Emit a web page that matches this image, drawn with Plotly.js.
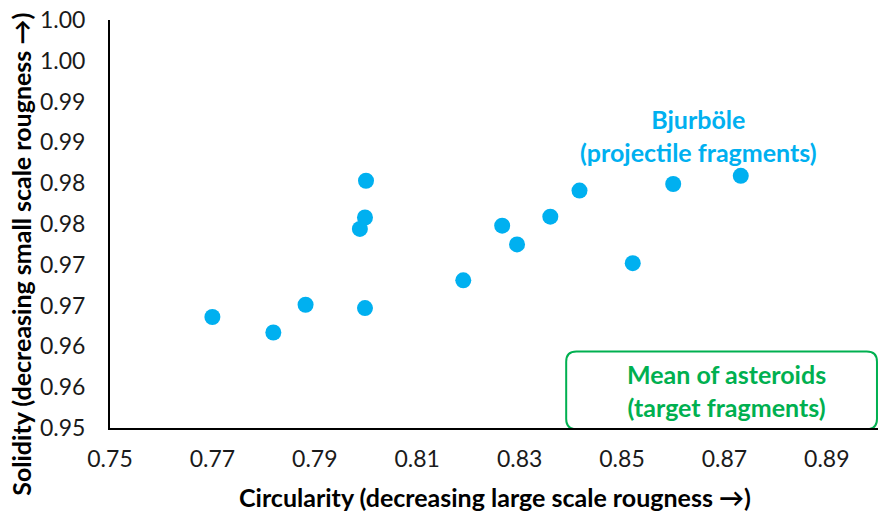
<!DOCTYPE html>
<html>
<head>
<meta charset="utf-8">
<script src="https://cdn.plot.ly/plotly-3.0.1.min.js"></script>
<style>html,body{margin:0;padding:0;background:#fff;}#chart{width:878px;height:516px;}</style>
</head>
<body>
<div id="chart"></div>
<script>
const circularity = [0.7700, 0.7819, 0.7882, 0.8000, 0.7998, 0.7988, 0.7998, 0.8190, 0.8266, 0.8295, 0.8360, 0.8417, 0.8521, 0.8600, 0.8732];
const solidity    = [0.9636, 0.9617, 0.9651, 0.9803, 0.9758, 0.9744, 0.9647, 0.9681, 0.9748, 0.9725, 0.9759, 0.9791, 0.9702, 0.9799, 0.9809];
const xTickVals = [0.75, 0.77, 0.79, 0.81, 0.83, 0.85, 0.87, 0.89];
const xTickText = ["0.75", "0.77", "0.79", "0.81", "0.83", "0.85", "0.87", "0.89"];
const yTickVals = [0.95, 0.955, 0.96, 0.965, 0.97, 0.975, 0.98, 0.985, 0.99, 0.995, 1.0];
const yTickText = ["0.95", "0.96", "0.96", "0.97", "0.97", "0.98", "0.98", "0.99", "0.99", "1.00", "1.00"];
const xTitle = "Circularity (decreasing large scale rougness \u2192)";
const yTitle = "Solidity (decreasing small scale rougness \u2192)";
const projLabel = "Bjurböle<br>(projectile fragments)";
const targetLabel = "Mean of asteroids<br>(target fragments)";

const FONT = "Lato, 'Open Sans', 'DejaVu Sans', sans-serif";
const blue = "#00B0F0";
const green = "#00B050";

// rounded box (data coords)
const bx0 = 0.8391, bx1 = 0.8998, by0 = 0.94985, by1 = 0.95938;
const rx = 0.0020, ry = 0.00125;
const boxPath = `M ${bx0+rx},${by1} L ${bx1-rx},${by1} Q ${bx1},${by1} ${bx1},${by1-ry} L ${bx1},${by0+ry} Q ${bx1},${by0} ${bx1-rx},${by0} L ${bx0+rx},${by0} Q ${bx0},${by0} ${bx0},${by0+ry} L ${bx0},${by1-ry} Q ${bx0},${by1} ${bx0+rx},${by1} Z`;

const trace = {
  x: circularity, y: solidity, type: "scatter", mode: "markers",
  marker: {size: 16, color: blue}, cliponaxis: false, hoverinfo: "x+y"
};

const layout = {
  width: 878, height: 516,
  margin: {l: 110, r: 0, t: 20, b: 88},
  paper_bgcolor: "#fff", plot_bgcolor: "#fff",
  showlegend: false,
  font: {family: FONT, color: "#000"},
  xaxis: {
    range: [0.75, 0.90], tickvals: xTickVals, ticktext: xTickText,
    showgrid: false, zeroline: false, showline: true, linecolor: "#000", linewidth: 2,
    ticks: "", ticklabelstandoff: 9, tickfont: {family: FONT, size: 23, color: "#1a1a1a"}
  },
  yaxis: {
    range: [0.95, 1.0], tickvals: yTickVals, ticktext: yTickText,
    showgrid: false, zeroline: false, showline: true, linecolor: "#000", linewidth: 2,
    ticks: "", ticklabelstandoff: 18, tickfont: {family: FONT, size: 23, color: "#1a1a1a"}
  },
  shapes: [{type: "path", path: boxPath, xref: "x", yref: "y", line: {color: green, width: 2}, fillcolor: "rgba(255,255,255,0)"}],
  annotations: [
    {text: projLabel, x: 0.865, y: 0.9858, xref: "x", yref: "y", showarrow: false,
     font: {family: FONT, size: 25, color: blue, weight: "bold"}, align: "center"},
    {text: targetLabel, x: 0.8705, y: 0.9546, xref: "x", yref: "y", showarrow: false,
     font: {family: FONT, size: 25, color: green, weight: "bold"}, align: "center"},
    {text: xTitle, x: 0.501, y: -0.168, xref: "paper", yref: "paper", showarrow: false,
     xanchor: "center", yanchor: "middle", font: {family: FONT, size: 25, color: "#000", weight: "bold"}},
    {text: yTitle, x: -0.117, y: 0.425, xref: "paper", yref: "paper", showarrow: false, textangle: -90,
     xanchor: "center", yanchor: "middle", font: {family: FONT, size: 25, color: "#000", weight: "bold"}}
  ]
};

Plotly.newPlot("chart", [trace], layout, {displayModeBar: false, staticPlot: true});
</script>
</body>
</html>
